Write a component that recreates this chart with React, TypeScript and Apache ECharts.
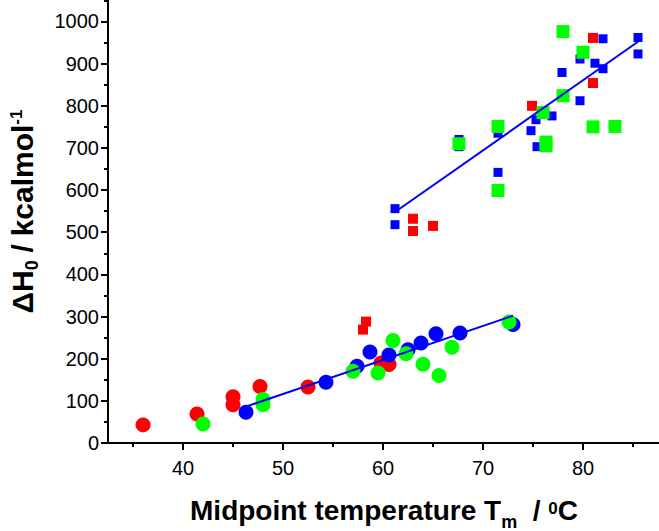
import React, { useEffect, useRef } from 'react';
import * as echarts from 'echarts';

// Axis ticks / labels
const xMajorTicks = [40, 50, 60, 70, 80];
const xMinorTicks = [35, 45, 55, 65, 75, 85];
const yMajorTicks = [0, 100, 200, 300, 400, 500, 600, 700, 800, 900, 1000];
const yMinorTicks = [50, 150, 250, 350, 450, 550, 650, 750, 850, 950, 1050];

// Data: [Tm (°C), ΔH0 (kcal/mol)]
const redCircles = [
  [36.0, 43], [41.4, 69], [45.0, 110], [45.0, 91], [47.7, 134], [52.5, 133], [59.8, 190], [60.6, 186],
];
const redSquares = [
  [58.3, 288], [58.0, 269], [63.0, 532], [63.0, 503], [65.0, 515], [74.9, 800], [81.0, 961], [81.0, 854],
];
const blueCircles = [
  [46.3, 73], [54.3, 144], [57.4, 182], [58.7, 216], [60.6, 209], [62.5, 221], [63.8, 237], [65.3, 259],
  [67.7, 261], [73.0, 281],
];
const blueSquares = [
  [61.2, 556], [61.2, 518], [67.6, 720], [67.6, 703], [71.5, 735], [71.5, 642], [74.8, 741], [75.3, 767],
  [75.4, 703], [76.9, 776], [77.9, 879], [79.7, 911], [79.7, 812], [81.2, 901], [82.0, 959], [82.0, 888],
  [85.5, 962], [85.5, 923],
];
const greenCircles = [
  [42.0, 45], [48.0, 103], [48.0, 91], [57.0, 170], [59.5, 166], [61.0, 243], [62.3, 212], [64.0, 187],
  [65.6, 160], [66.9, 227], [72.6, 287],
];
const greenSquares = [
  [67.6, 710], [71.5, 751], [71.5, 599], [76.0, 784], [76.3, 714], [76.3, 705], [78.0, 976], [78.0, 824],
  [80.0, 927], [81.0, 750], [83.2, 751],
];
const lowFit = [[46.0, 84], [73.0, 302]];
const highFit = [[61.2, 548], [85.5, 952]];

// Axis titles: pieces (text, font size, baseline shift, gap after in spaces)
const xTitleParts = [
  { t: 'Midpoint temperature T', fs: 28, dy: 0, gap: 0 },
  { t: 'm', fs: 18, dy: 8.5, gap: 2 },
  { t: '/', fs: 28, dy: 0, gap: 1 },
  { t: '0', fs: 17, dy: -6, gap: 0 },
  { t: 'C', fs: 28, dy: 0, gap: 0 },
];
const yTitleParts = [
  { t: '\u0394H', fs: 30, dy: 0, gap: 0 },
  { t: '0', fs: 18, dy: 5, gap: 1 },
  { t: '/', fs: 30, dy: 0, gap: 1 },
  { t: 'kcalmol', fs: 30, dy: 0, gap: 0 },
  { t: '-1', fs: 17, dy: -11, gap: 0 },
];

const FONT = 'Liberation Sans, Arial, sans-serif';
const RED = '#ff0000';
const BLUE = '#0000ff';
const GREEN = '#00ff00';

type Part = { t: string; fs: number; dy: number; gap: number };

function measure(ctx: CanvasRenderingContext2D | null, text: string, fs: number) {
  if (!ctx) return text.length * fs * 0.6;
  ctx.font = `bold ${fs}px "Liberation Sans", Arial, sans-serif`;
  return ctx.measureText(text).width;
}

function buildTitle(parts: Part[], x: number, y: number, rotation: number) {
  const ctx = document.createElement('canvas').getContext('2d');
  const widths = parts.map((p) => measure(ctx, p.t, p.fs) + p.gap * measure(ctx, ' ', 28));
  const total = widths.reduce((a, b) => a + b, 0);
  let cur = -total / 2;
  const children = parts.map((p, i) => {
    const el = {
      type: 'text',
      x: cur,
      y: p.dy - 0.3465 * p.fs,
      style: {
        text: p.t,
        fontSize: p.fs,
        fontWeight: 'bold',
        fontFamily: FONT,
        fill: '#000',
        align: 'left',
        verticalAlign: 'middle',
      },
    };
    cur += widths[i];
    return el;
  });
  return { type: 'group', x, y, rotation, z: 10, children };
}

export default function App() {
  const ref = useRef<HTMLDivElement>(null);

  useEffect(() => {
    if (!ref.current) return;
    const chart = echarts.init(ref.current, undefined, { renderer: 'svg' });
    const axisLineStyle = { color: '#000', width: 2 };
    const xMin = 32.5;
    const xMax = 87.6;
    const yMin = 0;
    const yMax = 1051;

    const scatter = (data: number[][], symbol: string, size: number, color: string) => ({
      type: 'scatter',
      data,
      symbol,
      symbolSize: size,
      itemStyle: { color, opacity: 1 },
      xAxisIndex: 0,
      yAxisIndex: 0,
      z: 3,
    });
    const fit = (data: number[][]) => ({
      type: 'line',
      data,
      showSymbol: false,
      symbol: 'none',
      lineStyle: { color: BLUE, width: 2 },
      itemStyle: { color: BLUE },
      xAxisIndex: 0,
      yAxisIndex: 0,
      z: 4,
    });

    chart.setOption({
      animation: false,
      backgroundColor: '#fff',
      grid: { left: 108, right: 0, top: 0, bottom: 88, containLabel: false, outerBoundsMode: 'none' },
      xAxis: [
        {
          type: 'value', min: xMin, max: xMax, position: 'bottom',
          axisLine: { show: true, onZero: false, lineStyle: axisLineStyle },
          axisTick: { show: true, inside: false, length: 7, lineStyle: axisLineStyle, customValues: xMajorTicks },
          axisLabel: {
            show: true, customValues: xMajorTicks, fontSize: 20, color: '#000', fontFamily: FONT, margin: 15,
            formatter: (v: number) => String(v),
          },
          splitLine: { show: false },
        },
        {
          type: 'value', min: xMin, max: xMax, position: 'bottom',
          axisLine: { show: false, onZero: false },
          axisTick: { show: true, inside: false, length: 4, lineStyle: axisLineStyle, customValues: xMinorTicks },
          axisLabel: { show: false },
          splitLine: { show: false },
        },
      ],
      yAxis: [
        {
          type: 'value', min: yMin, max: yMax, position: 'left',
          axisLine: { show: true, onZero: false, lineStyle: axisLineStyle },
          axisTick: { show: true, inside: false, length: 7, lineStyle: axisLineStyle, customValues: yMajorTicks },
          axisLabel: {
            show: true, customValues: yMajorTicks, fontSize: 20, color: '#000', fontFamily: FONT, margin: 9,
            formatter: (v: number) => String(v),
          },
          splitLine: { show: false },
        },
        {
          type: 'value', min: yMin, max: yMax, position: 'left',
          axisLine: { show: false, onZero: false },
          axisTick: { show: true, inside: false, length: 4, lineStyle: axisLineStyle, customValues: yMinorTicks },
          axisLabel: { show: false },
          splitLine: { show: false },
        },
      ],
      series: [
        scatter(redCircles, 'circle', 15, RED),
        scatter(redSquares, 'rect', 10, RED),
        scatter(blueCircles, 'circle', 15, BLUE),
        scatter(blueSquares, 'rect', 9, BLUE),
        scatter(greenCircles, 'circle', 15, GREEN),
        scatter(greenSquares, 'rect', 13, GREEN),
        fit(lowFit),
        fit(highFit),
      ],
      graphic: [
        buildTitle(xTitleParts, 384, 520, 0),
        buildTitle(yTitleParts, 33, 211.5, Math.PI / 2),
      ],
    });
    return () => chart.dispose();
  }, []);

  return (
    <div
      ref={ref}
      style={{ position: 'fixed', left: 0, top: 0, width: 659, height: 531, background: '#fff' }}
    />
  );
}
